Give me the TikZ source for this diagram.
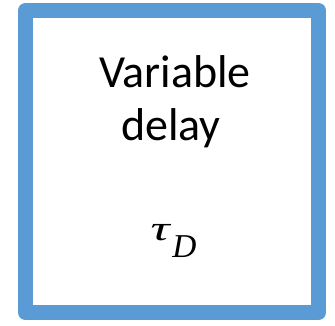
\documentclass[tikz,border=0pt]{standalone}
\usepackage{fontspec}
\setmainfont{Carlito}
\newfontfamily\symfont{Liberation Serif}
\usepackage{tikz}
\usetikzlibrary{positioning}
\definecolor{boxblue}{HTML}{5B9BD5}

\begin{document}
\begin{tikzpicture}[
			x=0.75pt, y=-0.75pt,
			frame/.style={
				draw=boxblue,
				line width=11.25pt,
				line join=round,
				minimum width=219.75pt,
				minimum height=226.5pt,
				inner sep=0pt
			},
			label/.style={
				anchor=base,
				inner sep=0pt,
				font=\fontsize{34.5pt}{40pt}\selectfont
			},
			symbol/.style={
				anchor=base,
				inner sep=0pt,
				font=\symfont\itshape\fontsize{25pt}{30pt}\selectfont
			}
			]
			
			\useasboundingbox (0,0) rectangle (335,325);
			
			\node[frame] (delay) at (172,161.5) {};
			
			\node[label] (var) at (175,87) {Variable};
			\node[label] (dly) at (171,140) {delay};
			\node[symbol] (tau) at (173.5,235) {\lower4pt\hbox{\scalebox{1.6}[1.05]{τ}}\kern2pt\lower16.5pt\hbox{D}};
			
		\end{tikzpicture}
\end{document}
